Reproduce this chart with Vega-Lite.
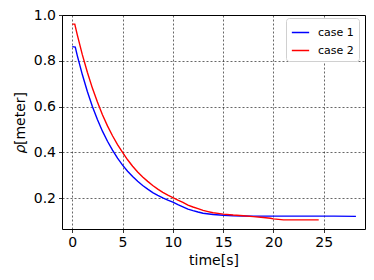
{
  "$schema": "https://vega.github.io/schema/vega-lite/v6.json",
  "width": 303,
  "height": 214,
  "autosize": {"type": "none"},
  "padding": {"left": 62, "top": 15, "right": 9, "bottom": 51},
  "background": "white",
  "config": {
    "font": "DejaVu Sans",
    "view": {"stroke": "#000", "strokeWidth": 1},
    "axis": {
      "domain": false,
      "grid": true,
      "gridColor": "#000",
      "gridOpacity": 0.75,
      "gridWidth": 0.8,
      "gridDash": [2, 2],
      "ticks": true,
      "tickColor": "#000",
      "tickSize": 3.5,
      "tickWidth": 0.8,
      "labelFont": "DejaVu Sans",
      "labelFontSize": 14,
      "labelColor": "#000",
      "labelPadding": 3,
      "titleFont": "DejaVu Sans",
      "titleFontSize": 14,
      "titleFontWeight": "normal",
      "titleColor": "#000"
    }
  },
  "data": {
    "values": [
      {"t": 0, "rho": 0.862, "series": "case 1"},
      {"t": 0.3, "rho": 0.86, "series": "case 1"},
      {"t": 0.5, "rho": 0.823, "series": "case 1"},
      {"t": 1, "rho": 0.74, "series": "case 1"},
      {"t": 1.5, "rho": 0.666, "series": "case 1"},
      {"t": 2, "rho": 0.601, "series": "case 1"},
      {"t": 2.5, "rho": 0.544, "series": "case 1"},
      {"t": 3, "rho": 0.493, "series": "case 1"},
      {"t": 3.5, "rho": 0.449, "series": "case 1"},
      {"t": 4, "rho": 0.41, "series": "case 1"},
      {"t": 4.5, "rho": 0.375, "series": "case 1"},
      {"t": 5, "rho": 0.345, "series": "case 1"},
      {"t": 5.5, "rho": 0.318, "series": "case 1"},
      {"t": 6, "rho": 0.295, "series": "case 1"},
      {"t": 6.5, "rho": 0.274, "series": "case 1"},
      {"t": 7, "rho": 0.256, "series": "case 1"},
      {"t": 7.5, "rho": 0.24, "series": "case 1"},
      {"t": 8, "rho": 0.225, "series": "case 1"},
      {"t": 8.5, "rho": 0.213, "series": "case 1"},
      {"t": 9, "rho": 0.202, "series": "case 1"},
      {"t": 9.5, "rho": 0.192, "series": "case 1"},
      {"t": 10, "rho": 0.183, "series": "case 1"},
      {"t": 10.5, "rho": 0.172, "series": "case 1"},
      {"t": 11, "rho": 0.163, "series": "case 1"},
      {"t": 11.5, "rho": 0.153, "series": "case 1"},
      {"t": 12, "rho": 0.146, "series": "case 1"},
      {"t": 12.5, "rho": 0.14, "series": "case 1"},
      {"t": 13, "rho": 0.135, "series": "case 1"},
      {"t": 14, "rho": 0.129, "series": "case 1"},
      {"t": 15, "rho": 0.126, "series": "case 1"},
      {"t": 16, "rho": 0.124, "series": "case 1"},
      {"t": 17, "rho": 0.123, "series": "case 1"},
      {"t": 18, "rho": 0.122, "series": "case 1"},
      {"t": 22, "rho": 0.122, "series": "case 1"},
      {"t": 26, "rho": 0.122, "series": "case 1"},
      {"t": 28.2, "rho": 0.121, "series": "case 1"},
      {"t": 0, "rho": 0.96, "series": "case 2"},
      {"t": 0.25, "rho": 0.96, "series": "case 2"},
      {"t": 0.5, "rho": 0.913, "series": "case 2"},
      {"t": 1, "rho": 0.827, "series": "case 2"},
      {"t": 1.5, "rho": 0.75, "series": "case 2"},
      {"t": 2, "rho": 0.681, "series": "case 2"},
      {"t": 2.5, "rho": 0.62, "series": "case 2"},
      {"t": 3, "rho": 0.565, "series": "case 2"},
      {"t": 3.5, "rho": 0.516, "series": "case 2"},
      {"t": 4, "rho": 0.473, "series": "case 2"},
      {"t": 4.5, "rho": 0.434, "series": "case 2"},
      {"t": 5, "rho": 0.4, "series": "case 2"},
      {"t": 5.5, "rho": 0.368, "series": "case 2"},
      {"t": 6, "rho": 0.34, "series": "case 2"},
      {"t": 6.5, "rho": 0.315, "series": "case 2"},
      {"t": 7, "rho": 0.293, "series": "case 2"},
      {"t": 7.5, "rho": 0.274, "series": "case 2"},
      {"t": 8, "rho": 0.256, "series": "case 2"},
      {"t": 8.5, "rho": 0.24, "series": "case 2"},
      {"t": 9, "rho": 0.226, "series": "case 2"},
      {"t": 9.5, "rho": 0.214, "series": "case 2"},
      {"t": 10, "rho": 0.203, "series": "case 2"},
      {"t": 10.5, "rho": 0.192, "series": "case 2"},
      {"t": 11, "rho": 0.182, "series": "case 2"},
      {"t": 11.5, "rho": 0.17, "series": "case 2"},
      {"t": 12, "rho": 0.162, "series": "case 2"},
      {"t": 12.5, "rho": 0.155, "series": "case 2"},
      {"t": 13, "rho": 0.147, "series": "case 2"},
      {"t": 13.5, "rho": 0.142, "series": "case 2"},
      {"t": 14, "rho": 0.137, "series": "case 2"},
      {"t": 14.5, "rho": 0.134, "series": "case 2"},
      {"t": 15, "rho": 0.131, "series": "case 2"},
      {"t": 16, "rho": 0.127, "series": "case 2"},
      {"t": 17, "rho": 0.124, "series": "case 2"},
      {"t": 18, "rho": 0.12, "series": "case 2"},
      {"t": 19, "rho": 0.116, "series": "case 2"},
      {"t": 19.7, "rho": 0.113, "series": "case 2"},
      {"t": 20, "rho": 0.11, "series": "case 2"},
      {"t": 21, "rho": 0.106, "series": "case 2"},
      {"t": 22, "rho": 0.106, "series": "case 2"},
      {"t": 23, "rho": 0.106, "series": "case 2"},
      {"t": 24.5, "rho": 0.106, "series": "case 2"}
    ]
  },
  "mark": {"type": "line", "strokeWidth": 1.4, "clip": true},
  "encoding": {
    "x": {
      "field": "t",
      "type": "quantitative",
      "scale": {"domain": [-1.02, 29.1], "nice": false, "zero": false},
      "axis": {"title": "time[s]", "values": [0, 5, 10, 15, 20, 25], "format": "d", "titlePadding": 4}
    },
    "y": {
      "field": "rho",
      "type": "quantitative",
      "scale": {"domain": [0.066, 1.0], "nice": false, "zero": false},
      "axis": {"title": "𝜌[meter]", "values": [0.2, 0.4, 0.6, 0.8, 1.0], "format": ".1f", "titlePadding": 6}
    },
    "color": {
      "field": "series",
      "type": "nominal",
      "scale": {"domain": ["case 1", "case 2"], "range": ["#0000ff", "#ff0000"]},
      "legend": {
        "title": null,
        "orient": "none",
        "legendX": 224,
        "legendY": 3,
        "symbolType": "stroke",
        "symbolSize": 300,
        "symbolStrokeWidth": 1.5,
        "labelFont": "DejaVu Sans",
        "labelFontSize": 11,
        "labelColor": "#000",
        "labelOffset": 8,
        "rowPadding": 3,
        "fillColor": "white",
        "strokeColor": "#d0d0d0",
        "cornerRadius": 3,
        "padding": 5
      }
    },
    "order": {"field": "t", "type": "quantitative"}
  }
}
